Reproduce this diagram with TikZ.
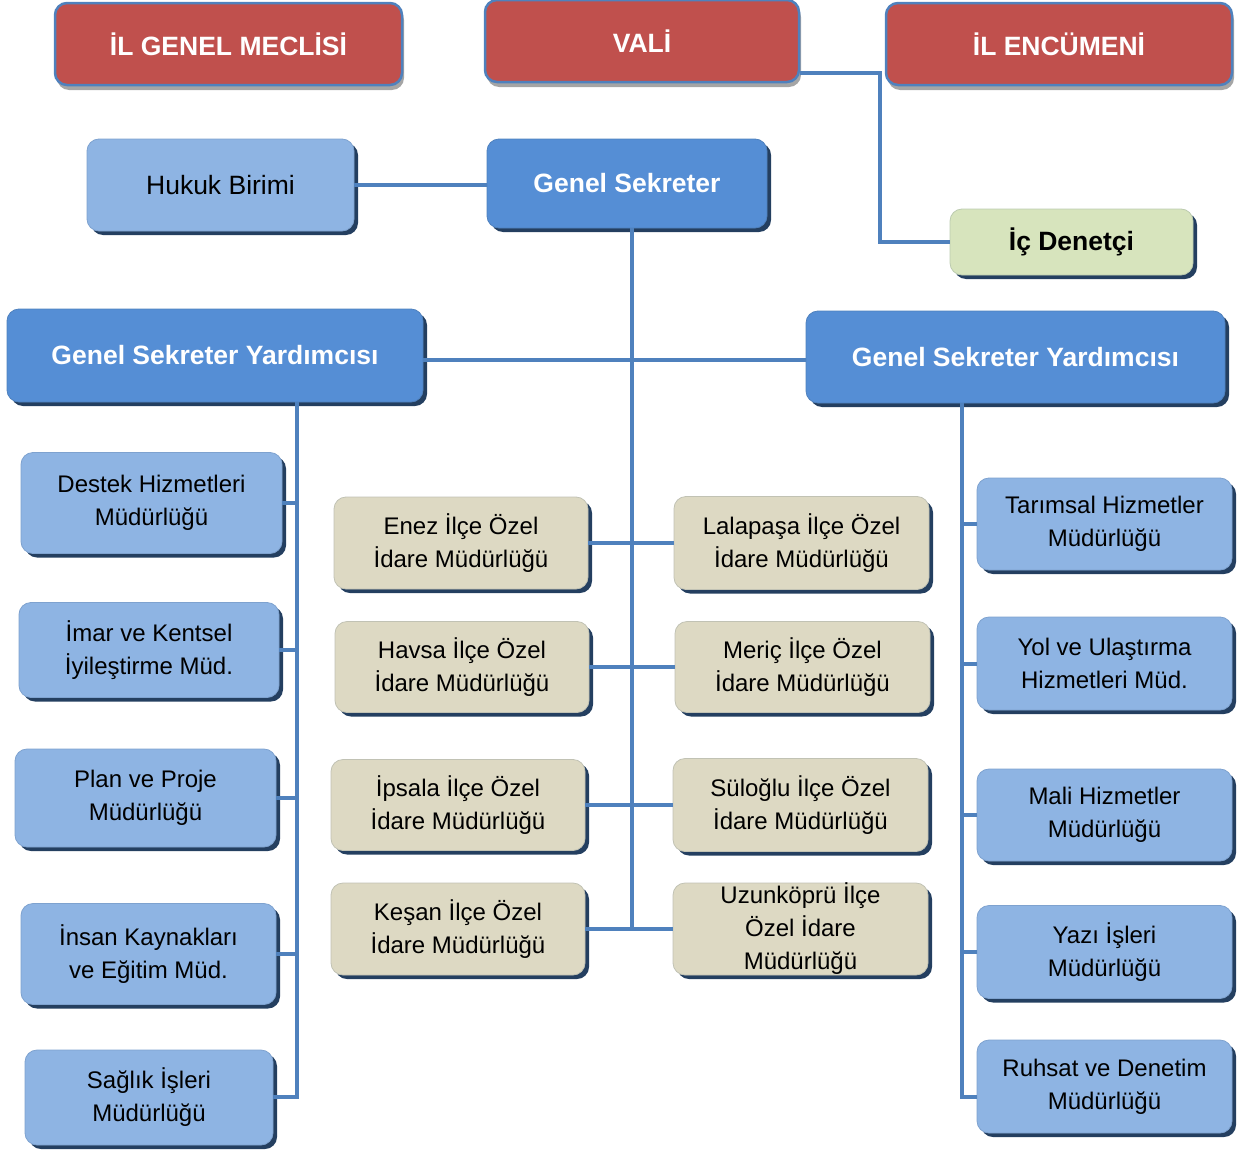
\documentclass[tikz,border=0pt]{standalone}
\usepackage{fontspec}
\setmainfont{Liberation Sans}
\usetikzlibrary{shadows}
\definecolor{redfill}{HTML}{C0504D}
\definecolor{edgeblue}{HTML}{4F81BD}
\definecolor{gsblue}{HTML}{558ED5}
\definecolor{lightblue}{HTML}{8EB4E3}
\definecolor{tanfill}{HTML}{DDD9C3}
\definecolor{palegreen}{HTML}{D7E4BD}
\definecolor{shadownavy}{HTML}{243F60}
\definecolor{shadowgray}{HTML}{A5A5A5}
\tikzset{
  basebox/.style={rounded corners=12pt, align=center, inner sep=0pt, text=black,
    font=\fontsize{24}{33}\selectfont},
  navyshadow/.style={drop shadow={shadow xshift=4pt, shadow yshift=-4pt, fill=shadownavy, opacity=1}},
  redbox/.style={basebox, fill=redfill, draw=edgeblue, line width=2.5pt, text=white,
    font=\fontsize{26.5}{30}\selectfont\bfseries,
    drop shadow={shadow xshift=2pt, shadow yshift=-5pt, fill=shadowgray, opacity=1}},
  gsbox/.style={basebox, navyshadow, fill=gsblue, draw=edgeblue, line width=0.8pt, text=white,
    font=\fontsize{26.5}{30}\selectfont\bfseries},
  lbox/.style={basebox, navyshadow, fill=lightblue, draw=lightblue!85!shadownavy, line width=0.8pt},
  tbox/.style={basebox, navyshadow, fill=tanfill, draw=tanfill!85!shadownavy, line width=0.8pt},
  gbox/.style={basebox, navyshadow, fill=palegreen, draw=palegreen!85!shadownavy, line width=0.8pt,
    font=\fontsize{26.5}{30}\selectfont\bfseries},
  conn/.style={draw=edgeblue, line width=4pt},
}
\begin{document}
\begin{tikzpicture}[x=1pt,y=-1pt]
\useasboundingbox (0,0) rectangle (1243,1151);
% top row
\node[redbox, minimum width=347pt, minimum height=82pt] (meclis) at (228.5,44) {İL GENEL MECLİSİ};
\node[redbox, minimum width=314pt, minimum height=82pt] (vali) at (642,41) {VALİ};
\node[redbox, minimum width=346pt, minimum height=82pt] (encumen) at (1059,44) {İL ENCÜMENİ};
% second row
\node[lbox, minimum width=267pt, minimum height=92pt, font=\fontsize{26.5}{30}\selectfont] (hukuk) at (220.5,185) {Hukuk Birimi};
\node[gsbox, minimum width=280pt, minimum height=89pt] (gs) at (627,183.5) {Genel Sekreter};
\node[gbox, minimum width=243pt, minimum height=66pt] (icd) at (1071.5,242) {İç Denetçi};
% deputies
\node[gsbox, minimum width=416pt, minimum height=93pt] (gsyl) at (215,355.5) {Genel Sekreter Yardımcısı};
\node[gsbox, minimum width=419pt, minimum height=92pt] (gsyr) at (1015.5,357) {Genel Sekreter Yardımcısı};
% left column
\node[lbox, minimum width=261pt, minimum height=101pt] (destek) at (151.5,503) {Destek Hizmetleri\\Müdürlüğü};
\node[lbox, minimum width=260pt, minimum height=95pt] (imar) at (149,650) {İmar ve Kentsel\\İyileştirme Müd.};
\node[lbox, minimum width=261pt, minimum height=98pt] (plan) at (145.5,798) {Plan ve Proje\\Müdürlüğü};
\node[lbox, minimum width=255pt, minimum height=101pt] (insan) at (148.5,954) {İnsan Kaynakları\\ve Eğitim Müd.};
\node[lbox, minimum width=248pt, minimum height=95pt] (saglik) at (149,1097.5) {Sağlık İşleri\\Müdürlüğü};
% middle columns
\node[tbox, minimum width=254pt, minimum height=92pt] (enez) at (461,543) {Enez İlçe Özel\\İdare Müdürlüğü};
\node[tbox, minimum width=254pt, minimum height=91pt] (havsa) at (462,667) {Havsa İlçe Özel\\İdare Müdürlüğü};
\node[tbox, minimum width=254pt, minimum height=91pt] (ipsala) at (458,805) {İpsala İlçe Özel\\İdare Müdürlüğü};
\node[tbox, minimum width=254pt, minimum height=92pt] (kesan) at (458,929) {Keşan İlçe Özel\\İdare Müdürlüğü};
\node[tbox, minimum width=255pt, minimum height=93pt] (lala) at (801.5,543) {Lalapaşa İlçe Özel\\İdare Müdürlüğü};
\node[tbox, minimum width=255pt, minimum height=91pt] (meric) at (802.5,667) {Meriç İlçe Özel\\İdare Müdürlüğü};
\node[tbox, minimum width=255pt, minimum height=93pt] (sulo) at (800.5,805) {Süloğlu İlçe Özel\\İdare Müdürlüğü};
\node[tbox, minimum width=255pt, minimum height=92pt] (uzun) at (800.5,929) {Uzunköprü İlçe\\Özel İdare\\Müdürlüğü};
% right column
\node[lbox, minimum width=255pt, minimum height=92pt] (tarim) at (1104.5,524) {Tarımsal Hizmetler\\Müdürlüğü};
\node[lbox, minimum width=255pt, minimum height=93pt] (yol) at (1104.5,663.5) {Yol ve Ulaştırma\\Hizmetleri Müd.};
\node[lbox, minimum width=255pt, minimum height=92pt] (mali) at (1104.5,815) {Mali Hizmetler\\Müdürlüğü};
\node[lbox, minimum width=255pt, minimum height=93pt] (yazi) at (1104.5,952) {Yazı İşleri\\Müdürlüğü};
\node[lbox, minimum width=255pt, minimum height=93pt] (ruhsat) at (1104.5,1086.5) {Ruhsat ve Denetim\\Müdürlüğü};
% helper coordinates
\coordinate (vturn) at (880,0);
\coordinate (vout) at ([yshift=10pt]vali.south east);
\coordinate (hline) at (0,360);
\coordinate (cx) at (632,929);
\coordinate (lx) at (297,1097);
\coordinate (rx) at (962,1097);
% connectors
\draw[conn] (vout) -- (vout -| vturn) |- (icd.west);
\draw[conn] (hukuk.east) -- (hukuk.east -| gs.west);
\draw[conn] (gs.south -| cx) -- (cx);
\draw[conn] (gsyl.east |- hline) -- (gsyr.west |- hline);
\draw[conn] (enez.east) -- (enez.east -| lala.west);
\draw[conn] (havsa.east) -- (havsa.east -| meric.west);
\draw[conn] (ipsala.east) -- (ipsala.east -| sulo.west);
\draw[conn] (kesan.east) -- (kesan.east -| uzun.west);
\draw[conn] (gsyl.south -| lx) -- (lx) -- (lx -| saglik.east);
\draw[conn] (destek.east) -- (destek.east -| lx);
\draw[conn] (imar.east) -- (imar.east -| lx);
\draw[conn] (plan.east) -- (plan.east -| lx);
\draw[conn] (insan.east) -- (insan.east -| lx);
\draw[conn] (gsyr.south -| rx) -- (rx) -- (rx -| ruhsat.west);
\draw[conn] (tarim.west) -- (tarim.west -| rx);
\draw[conn] (yol.west) -- (yol.west -| rx);
\draw[conn] (mali.west) -- (mali.west -| rx);
\draw[conn] (yazi.west) -- (yazi.west -| rx);
\end{tikzpicture}
\end{document}
